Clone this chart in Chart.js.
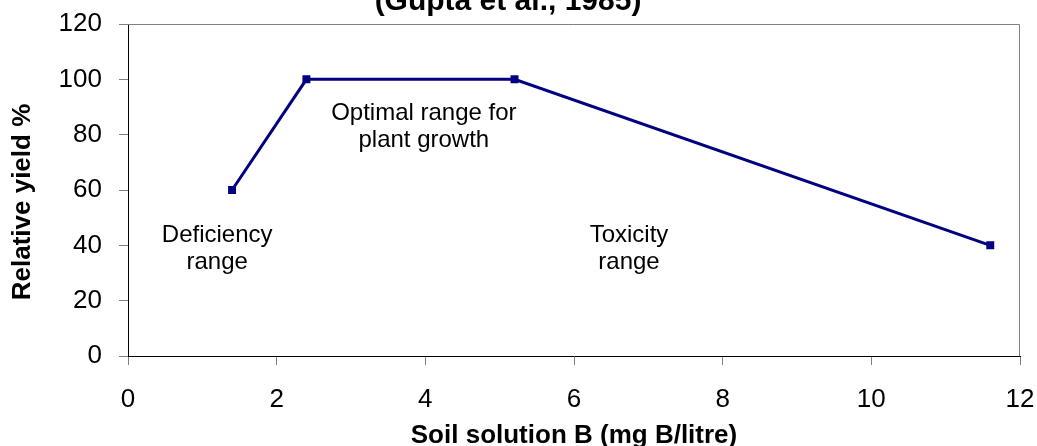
<!DOCTYPE html>
<html>
<head>
<meta charset="utf-8">
<script src="https://cdn.jsdelivr.net/npm/chart.js"></script>
<style>
    html, body { margin: 0; padding: 0; background: #fff; }
    canvas { display: block; }
</style>
</head>
<body>
<canvas id="yieldChart" width="1037" height="446"></canvas>
<script>
(function () {
    "use strict";

    // -----------------------------------------------------------
    //  Data
    // -----------------------------------------------------------
    var boronLevels = [1.4, 2.4, 5.2, 11.6];
    var relativeYield = [60, 100, 100, 40];
    var xTickValues = [0, 2, 4, 6, 8, 10, 12];
    var yTickValues = [0, 20, 40, 60, 80, 100, 120];
    var rangeLabels = [
        ["Deficiency", "range"],
        ["Optimal range for", "plant growth"],
        ["Toxicity", "range"]
    ];
    var titleText = "(Gupta et al., 1985)";
    var xTitle = "Soil solution B (mg B/litre)";
    var yTitle = "Relative yield %";

    // where the range notes sit, in axis units (x centre, first baseline)
    var notePlacement = [
        { x: 1.2, y: 41.2 },
        { x: 3.98, y: 85.3 },
        { x: 6.74, y: 41.2 }
    ];

    var FONT = "'Liberation Sans', Arial, sans-serif";
    var NAVY = "#000080";

    // drop the label overhang padding so layout.padding fixes the plot box
    function noScalePadding(s) {
        s.paddingTop = 0;
        s.paddingBottom = 0;
        s.paddingLeft = 0;
        s.paddingRight = 0;
    }

    var chartText = {
        id: "chartText",
        afterDraw: function (chart) {
            var ctx = chart.ctx;
            var area = chart.chartArea;
            var xs = chart.scales.x, ys = chart.scales.y;
            ctx.save();

            // gray frame on top and right
            ctx.strokeStyle = "#808080";
            ctx.lineWidth = 1;
            ctx.beginPath();
            ctx.moveTo(area.left, area.top + 0.5);
            ctx.lineTo(area.right - 0.5, area.top + 0.5);
            ctx.lineTo(area.right - 0.5, area.bottom);
            ctx.stroke();

            // title, cut off by the top edge
            ctx.fillStyle = "#000";
            ctx.textAlign = "center";
            ctx.textBaseline = "alphabetic";
            ctx.font = "bold 30px " + FONT;
            ctx.fillText(titleText, 508, 10);

            // y axis title
            ctx.save();
            ctx.translate(23, 202);
            ctx.rotate(-Math.PI / 2);
            ctx.textBaseline = "middle";
            ctx.font = "bold 26px " + FONT;
            ctx.fillText(yTitle, 0, 0);
            ctx.restore();

            // range notes
            ctx.font = "24px " + FONT;
            rangeLabels.forEach(function (lines, i) {
                var px = xs.getPixelForValue(notePlacement[i].x);
                var py = ys.getPixelForValue(notePlacement[i].y);
                lines.forEach(function (t, j) {
                    ctx.fillText(t, px, py + j * 27);
                });
            });
            ctx.restore();
        }
    };

    new Chart(document.getElementById("yieldChart"), {
        type: "line",
        data: {
            datasets: [{
                data: boronLevels.map(function (b, i) { return { x: b, y: relativeYield[i] }; }),
                borderColor: NAVY,
                backgroundColor: NAVY,
                borderWidth: 3,
                pointStyle: "rect",
                pointRadius: 3.5,
                pointHoverRadius: 3.5,
                tension: 0,
                fill: false
            }]
        },
        options: {
            responsive: false,
            animation: false,
            events: [],
            layout: { padding: { top: 24, right: 17, left: 0, bottom: 0 } },
            plugins: {
                legend: { display: false },
                tooltip: { enabled: false },
                title: { display: false }
            },
            scales: {
                x: {
                    type: "linear",
                    min: 0,
                    max: 12,
                    afterBuildTicks: function (s) {
                        s.ticks = xTickValues.map(function (v) { return { value: v }; });
                    },
                    afterFit: function (s) { s.height = 90; noScalePadding(s); },
                    grid: { drawOnChartArea: false, drawTicks: true, tickLength: 9, color: "#808080" },
                    border: { display: true, color: "#000", width: 1 },
                    ticks: { color: "#000", padding: 19, font: { family: FONT, size: 26 } },
                    title: {
                        display: true,
                        text: xTitle,
                        color: "#000",
                        font: { family: FONT, size: 26, weight: "bold" },
                        padding: { top: 0, bottom: -5 }
                    }
                },
                y: {
                    min: 0,
                    max: 120,
                    afterBuildTicks: function (s) {
                        s.ticks = yTickValues.map(function (v) { return { value: v }; });
                    },
                    afterFit: function (s) { s.width = 128; noScalePadding(s); },
                    grid: { drawOnChartArea: false, drawTicks: true, tickLength: 9, color: "#808080" },
                    border: { display: true, color: "#000", width: 1 },
                    ticks: { color: "#000", padding: 17, font: { family: FONT, size: 26 } }
                }
            }
        },
        plugins: [chartText]
    });
})();
</script>
</body>
</html>
